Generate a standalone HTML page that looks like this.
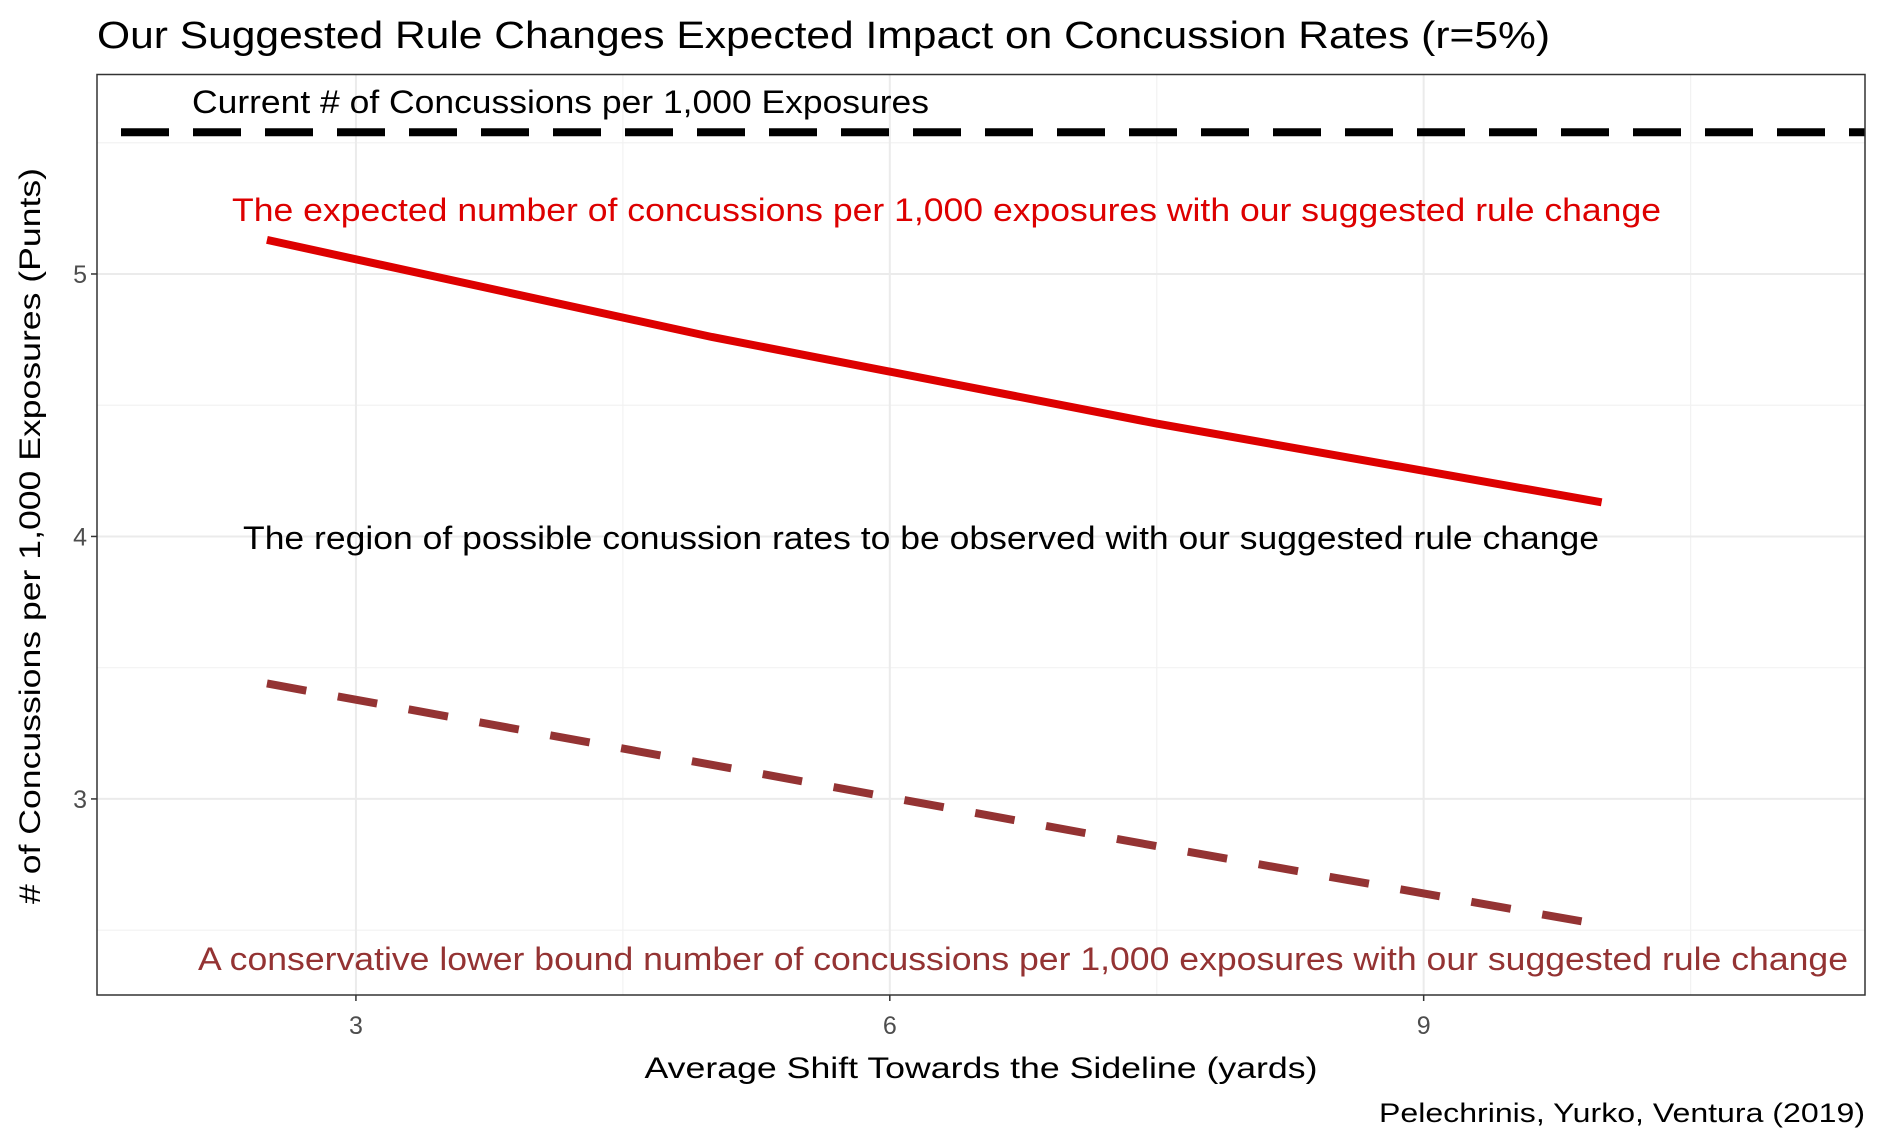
<!DOCTYPE html>
<html><head><meta charset="utf-8"><style>
html,body{margin:0;padding:0;background:#fff}
svg{display:block;font-family:"Liberation Sans",Arial,sans-serif}
</style></head><body>
<svg id="chart" width="1884" height="1145" viewBox="0 0 1884 1145" xmlns="http://www.w3.org/2000/svg">
<text x="97" y="48" font-size="38" fill="#000" textLength="1453" lengthAdjust="spacingAndGlyphs">Our Suggested Rule Changes Expected Impact on Concussion Rates (r=5%)</text>
<g id="grid"></g>
<g id="marks"></g>
<rect x="97" y="74.5" width="1768" height="920.5" fill="none" stroke="#333" stroke-width="1.5"/>
<g id="axes"></g>
<text x="192" y="113" font-size="32" fill="#000" textLength="737" lengthAdjust="spacingAndGlyphs">Current # of Concussions per 1,000 Exposures</text>
<text x="232" y="221" font-size="32" fill="#dd0000" textLength="1429" lengthAdjust="spacingAndGlyphs">The expected number of concussions per 1,000 exposures with our suggested rule change</text>
<text x="243" y="549" font-size="32" fill="#000" textLength="1356" lengthAdjust="spacingAndGlyphs">The region of possible conussion rates to be observed with our suggested rule change</text>
<text x="198" y="970" font-size="32" fill="#943333" textLength="1650" lengthAdjust="spacingAndGlyphs">A conservative lower bound number of concussions per 1,000 exposures with our suggested rule change</text>
<text x="981" y="1078" font-size="30" text-anchor="middle" fill="#000" textLength="673" lengthAdjust="spacingAndGlyphs">Average Shift Towards the Sideline (yards)</text>
<text transform="translate(40,536) rotate(-90)" font-size="30" text-anchor="middle" fill="#000" textLength="736" lengthAdjust="spacingAndGlyphs"># of Concussions per 1,000 Exposures (Punts)</text>
<text x="1865" y="1122" font-size="27" text-anchor="end" fill="#000" textLength="486" lengthAdjust="spacingAndGlyphs">Pelechrinis, Yurko, Ventura (2019)</text>
</svg>
<script>
const xCategories = [2.5, 5, 7.5, 10];
const expectedValues = [5.13, 4.76, 4.43, 4.13];
const lowerBoundValues = [3.44, 3.13, 2.82, 2.52];
const currentRate = 5.54;
const xTickValues = [3, 6, 9];
const yTickValues = [3, 4, 5];
const yMinorValues = [2.5, 3.5, 4.5, 5.5];
const xMinorValues = [1.5, 4.5, 7.5, 10.5];

const L=97,R=1865,T=74.5,B=995;
const xMin=1.545,xMax=11.48,yMin=2.253,yMax=5.76;
const sx=v=>L+(v-xMin)/(xMax-xMin)*(R-L);
const sy=v=>B-(v-yMin)/(yMax-yMin)*(B-T);
const NS='http://www.w3.org/2000/svg';
function mk(tag,parent,attrs){const e=document.createElementNS(NS,tag);for(const k in attrs)e.setAttribute(k,attrs[k]);parent.appendChild(e);return e;}
const grid=document.getElementById('grid'),marks=document.getElementById('marks'),axes=document.getElementById('axes');
yMinorValues.forEach(v=>{const e=mk('line',grid,{x1:L,x2:R,y1:sy(v),y2:sy(v),stroke:'#f2f2f2','stroke-width':1.2});

});
xMinorValues.forEach(v=>{if(sx(v)<L||sx(v)>R)return;const e=mk('line',grid,{x1:sx(v),x2:sx(v),y1:T,y2:B,stroke:'#f2f2f2','stroke-width':1.2});

});
yTickValues.forEach(v=>{const e=mk('line',grid,{x1:L,x2:R,y1:sy(v),y2:sy(v),stroke:'#ebebeb','stroke-width':2});


const t=mk('line',axes,{x1:L-6,x2:L,y1:sy(v),y2:sy(v),stroke:'#333','stroke-width':1.5});


const l=mk('text',axes,{x:L-10,y:sy(v)+9,'font-size':25,'text-anchor':'end',fill:'#4d4d4d'});l.textContent=v;

});
xTickValues.forEach(v=>{const e=mk('line',grid,{x1:sx(v),x2:sx(v),y1:T,y2:B,stroke:'#ebebeb','stroke-width':2});


const t=mk('line',axes,{x1:sx(v),x2:sx(v),y1:B,y2:B+6,stroke:'#333','stroke-width':1.5});


const l=mk('text',axes,{x:sx(v),y:B+39,'font-size':25,'text-anchor':'middle',fill:'#4d4d4d'});l.textContent=v;

});
const cur=mk('line',marks,{x1:L,x2:R,y1:sy(currentRate),y2:sy(currentRate),stroke:'#000','stroke-width':8,'stroke-dasharray':'48 24','stroke-dashoffset':'-24'});


const pts=a=>a.map((v,i)=>sx(xCategories[i])+','+sy(v)).join(' ');
const exp=mk('polyline',marks,{points:pts(expectedValues),fill:'none',stroke:'#dd0000','stroke-width':8});


const low=mk('polyline',marks,{points:pts(lowerBoundValues),fill:'none',stroke:'#943333','stroke-width':8,'stroke-dasharray':'40 32'});


</script>
</body></html>
